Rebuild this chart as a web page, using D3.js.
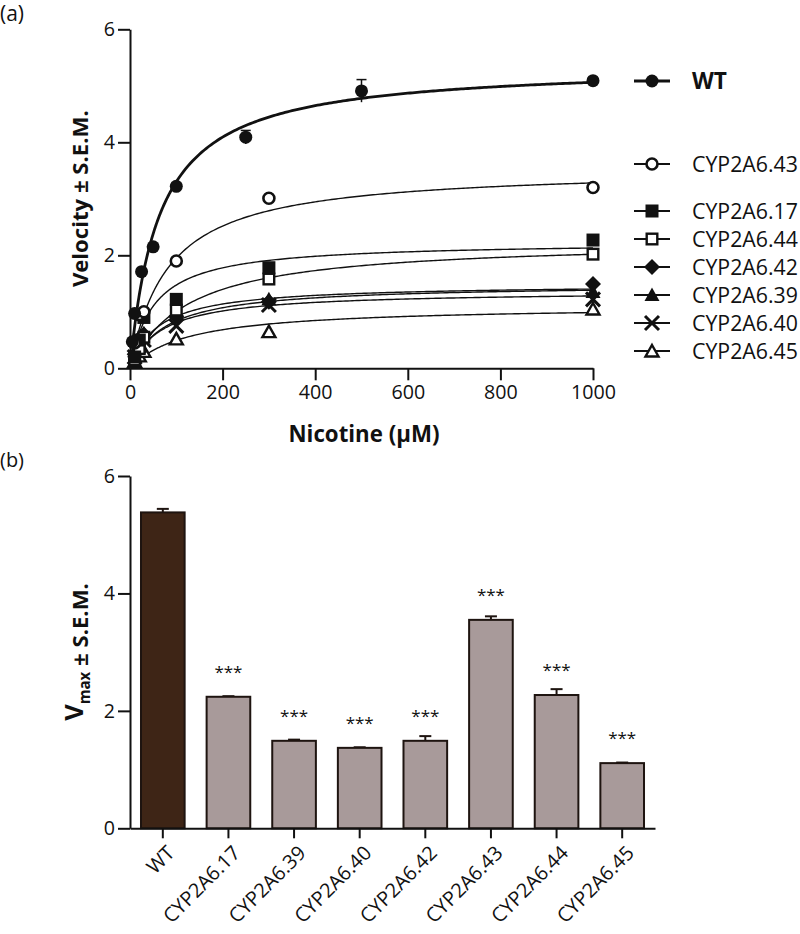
<!DOCTYPE html>
<html><head><meta charset="utf-8">
<script src="https://cdn.jsdelivr.net/npm/d3@7"></script>
<style>
body{margin:0;background:#fff;}
text{font-family:"Open Sans",sans-serif;fill:#111;}
</style></head>
<body><svg id="c" width="800" height="934"></svg>
<script>
// ---------- Panel (a) data ----------
const variants = ["WT","CYP2A6.43","CYP2A6.17","CYP2A6.44","CYP2A6.42","CYP2A6.39","CYP2A6.40","CYP2A6.45"];
const markerTypes = ["circleFilled","circleOpen","squareFilled","squareOpen","diamondFilled","triangleFilled","cross","triangleOpen"];
const wtConc = [5,10,25,50,100,250,500,1000];
const wtVel  = [0.47,0.97,1.71,2.15,3.22,4.09,4.91,5.09];
const wtSem  = [0.02,0.03,0.04,0.05,0.06,0.12,0.20,0.04];
const varConc = [10,20,30,100,300,1000];
const vel43 = [0.45,0.95,1.00,1.90,3.01,3.20];
const vel17 = [0.20,0.50,0.90,1.22,1.78,2.27];
const vel44 = [0.15,0.35,0.55,1.03,1.58,2.02];
const vel42 = [0.25,0.45,0.60,0.92,1.18,1.49];
const vel39 = [0.30,0.55,0.62,1.00,1.22,1.35];
const vel40 = [0.20,0.40,0.50,0.75,1.12,1.22];
const vel45 = [0.12,0.22,0.30,0.52,0.65,1.05];
// Michaelis-Menten fit parameters for drawn curves
const fitVmax = [5.38,3.55,2.24,2.27,1.49,1.49,1.37,1.11];
const fitKm   = [63,82,52,125,62,78,70,125];
const xTicksA = [0,200,400,600,800,1000];
const yTicks  = [0,2,4,6];

// ---------- Panel (b) data ----------
const barCats = ["WT","CYP2A6.17","CYP2A6.39","CYP2A6.40","CYP2A6.42","CYP2A6.43","CYP2A6.44","CYP2A6.45"];
const barVmax = [5.38,2.24,1.49,1.37,1.49,3.55,2.27,1.11];
const barSem  = [0.06,0.01,0.02,0.01,0.08,0.06,0.10,0.01];
const barSig  = ["","***","***","***","***","***","***","***"];

const seriesData = [
  {name:variants[0], x:wtConc, y:wtVel, e:wtSem},
  {name:variants[1], x:varConc, y:vel43},
  {name:variants[2], x:varConc, y:vel17},
  {name:variants[3], x:varConc, y:vel44},
  {name:variants[4], x:varConc, y:vel42},
  {name:variants[5], x:varConc, y:vel39},
  {name:variants[6], x:varConc, y:vel40},
  {name:variants[7], x:varConc, y:vel45}
];

const svg = d3.select("#c");
const ink = "#111";

// text-size fitting (re-run once fonts are ready)
const fits = [];
function measure(str, weight){
  const t = svg.append("text").style("font-size","20px").style("font-weight",weight).text(str);
  const w = t.node().getComputedTextLength(); t.remove();
  return w;
}
function addFit(sel, str, weight, target, scale){ fits.push({sel,str,weight,target,scale:scale||1}); }
function fitAll(){
  fits.forEach(f=>{
    const s = 20*f.target/measure(f.str,f.weight)*f.scale;
    f.sel.style("font-size", s+"px");
  });
}

// ================= Panel (a) =================
const xA = d3.scaleLinear().domain([0,1000]).range([130,593]);
const yA = d3.scaleLinear().domain([0,6]).range([368.3,29.3]);

const gA = svg.append("g");
function styleAxis(g){
  g.selectAll("path,line").attr("stroke",ink).attr("stroke-width",2);
  g.selectAll("text").attr("fill",ink).style("font-family",'"Open Sans",sans-serif');
}
const fmt = d3.format("d");
const axYA = gA.append("g").attr("transform","translate(130,0)")
  .call(d3.axisLeft(yA).tickValues(yTicks).tickFormat(fmt).tickSize(12).tickSizeOuter(0).tickPadding(3));
styleAxis(axYA); addFit(axYA.selectAll("text"),"1000",400,45);
const axXA = gA.append("g").attr("transform","translate(0,368.3)")
  .call(d3.axisBottom(xA).tickValues(xTicksA).tickFormat(fmt).tickSize(12).tickSizeOuter(0).tickPadding(5));
styleAxis(axXA); addFit(axXA.selectAll("text"),"1000",400,45);

// curves
const line = d3.line().x(d=>xA(d[0])).y(d=>yA(d[1]));
seriesData.forEach((s,i)=>{
  const x0 = d3.min(s.x), pts=[];
  for(let c=x0;c<=1000;c+= (c<100?1:5)){ pts.push([c, fitVmax[i]*c/(fitKm[i]+c)]); }
  gA.append("path").attr("d",line(pts)).attr("fill","none").attr("stroke",ink)
    .attr("stroke-width", i===0?2.8:1.4);
});

// markers
function drawMarker(g, type, cx, cy){
  const s = 6.5;
  if(type==="circleFilled") g.append("circle").attr("cx",cx).attr("cy",cy).attr("r",s).attr("fill",ink);
  else if(type==="circleOpen") g.append("circle").attr("cx",cx).attr("cy",cy).attr("r",s-1).attr("fill","#fff").attr("stroke",ink).attr("stroke-width",2.6);
  else if(type==="squareFilled") g.append("rect").attr("x",cx-s).attr("y",cy-s).attr("width",2*s).attr("height",2*s).attr("fill",ink);
  else if(type==="squareOpen") g.append("rect").attr("x",cx-s+1.2).attr("y",cy-s+1.2).attr("width",2*s-2.4).attr("height",2*s-2.4).attr("fill","#fff").attr("stroke",ink).attr("stroke-width",2.4);
  else if(type==="diamondFilled") g.append("path").attr("d",`M${cx},${cy-8}L${cx+8},${cy}L${cx},${cy+8}L${cx-8},${cy}Z`).attr("fill",ink);
  else if(type==="triangleFilled") g.append("path").attr("d",`M${cx},${cy-7.5}L${cx+7.5},${cy+6}L${cx-7.5},${cy+6}Z`).attr("fill",ink);
  else if(type==="triangleOpen") g.append("path").attr("d",`M${cx},${cy-6}L${cx+6.5},${cy+5.5}L${cx-6.5},${cy+5.5}Z`).attr("fill","#fff").attr("stroke",ink).attr("stroke-width",2.4).attr("stroke-linejoin","miter");
  else if(type==="cross") g.append("path").attr("d",`M${cx-7},${cy-7}L${cx+7},${cy+7}M${cx+7},${cy-7}L${cx-7},${cy+7}`).attr("stroke",ink).attr("stroke-width",3);
}
for(let i=seriesData.length-1;i>=0;i--){
  const s = seriesData[i];
  s.x.forEach((xv,j)=>{
    if(s.e){
      const yt = yA(s.y[j]+s.e[j]), yb = yA(s.y[j]-s.e[j]);
      gA.append("line").attr("x1",xA(xv)).attr("x2",xA(xv)).attr("y1",yt).attr("y2",yb).attr("stroke",ink).attr("stroke-width",1.5);
      gA.append("line").attr("x1",xA(xv)-5).attr("x2",xA(xv)+5).attr("y1",yt).attr("y2",yt).attr("stroke",ink).attr("stroke-width",1.5);
    }
    drawMarker(gA, markerTypes[i], xA(xv), yA(s.y[j]));
  });
}

// legend
const legY = [81,164,211,239,267,295,323,351];
variants.forEach((v,i)=>{
  const ly = legY[i];
  gA.append("line").attr("x1",634).attr("x2",670).attr("y1",ly).attr("y2",ly).attr("stroke",ink).attr("stroke-width",i===0?3:2);
  drawMarker(gA, markerTypes[i], 652, ly);
  const t = gA.append("text").attr("x",692).attr("y",ly+8).text(v).style("font-weight", i===0?700:400);
  if(i===0) addFit(t,"WT",700,35); else addFit(t,"CYP2A6.43",400,106);
});

// titles
const velT = gA.append("text").attr("transform","translate(88,198.7) rotate(-90)").attr("text-anchor","middle")
  .style("font-weight",700).text("Velocity ± S.E.M.");
addFit(velT,"Velocity ± S.E.M.",700,177);
const nicT = gA.append("text").attr("x",364).attr("y",442).attr("text-anchor","middle")
  .style("font-weight",700).text("Nicotine (μM)");
addFit(nicT,"Nicotine (μM)",700,151);
addFit(svg.append("text").attr("x",0).attr("y",21).text("(a)"),"(a)",400,24);
addFit(svg.append("text").attr("x",0).attr("y",467).text("(b)"),"(b)",400,24);

// ================= Panel (b) =================
const xB = d3.scaleBand().domain(barCats).range([130,655]).paddingInner(0.335).paddingOuter(0.1675);
const yB = d3.scaleLinear().domain([0,6]).range([828.3,476]);
const gB = svg.append("g");

barCats.forEach((c,i)=>{
  const x = xB(c), w = xB.bandwidth();
  const yt = yB(barVmax[i]+barSem[i]);
  gB.append("line").attr("x1",x+w/2).attr("x2",x+w/2).attr("y1",yt).attr("y2",yB(barVmax[i])).attr("stroke","#1e1410").attr("stroke-width",2);
  gB.append("line").attr("x1",x+w/2-6).attr("x2",x+w/2+6).attr("y1",yt).attr("y2",yt).attr("stroke","#1e1410").attr("stroke-width",2);
  gB.append("rect").attr("x",x).attr("y",yB(barVmax[i])).attr("width",w).attr("height",yB(0)-yB(barVmax[i]))
    .attr("fill", i===0?"#3e2516":"#a89a9a").attr("stroke","#1e1410").attr("stroke-width",2);
  if(barSig[i]) gB.append("text").attr("x",x+w/2).attr("y",yB(barVmax[i])-19).attr("text-anchor","middle")
    .style("font-size","17px").text(barSig[i]);
});

const axYB = gB.append("g").attr("transform","translate(130,0)")
  .call(d3.axisLeft(yB).tickValues(yTicks).tickFormat(fmt).tickSize(12).tickSizeOuter(0).tickPadding(3));
styleAxis(axYB); addFit(axYB.selectAll("text"),"1000",400,45);
const axXB = gB.append("g").attr("transform","translate(0,828.3)")
  .call(d3.axisBottom(xB).tickSize(10).tickSizeOuter(0));
styleAxis(axXB); addFit(axXB.selectAll("text"),"CYP2A6.43",400,99);
axXB.selectAll("text").attr("text-anchor","end").attr("dy",null).attr("y",null)
  .attr("transform","translate(13,26) rotate(-45)");

// y title with subscript
const ytl = gB.append("text").attr("transform","translate(88,652) rotate(-90)").attr("text-anchor","middle")
  .style("font-weight",700);
const tV = ytl.append("tspan").attr("dy",-5).text("V");
const tM = ytl.append("tspan").attr("dy",7).text("max");
const tS = ytl.append("tspan").attr("dy",-2).text(" ± S.E.M.");
addFit(tV,"Velocity ± S.E.M.",700,177,1.15);
addFit(tM,"Velocity ± S.E.M.",700,177,0.68);
addFit(tS,"Velocity ± S.E.M.",700,177,1.0);

fitAll();
if(document.fonts){
  document.fonts.ready.then(fitAll);
}
</script></body></html>
